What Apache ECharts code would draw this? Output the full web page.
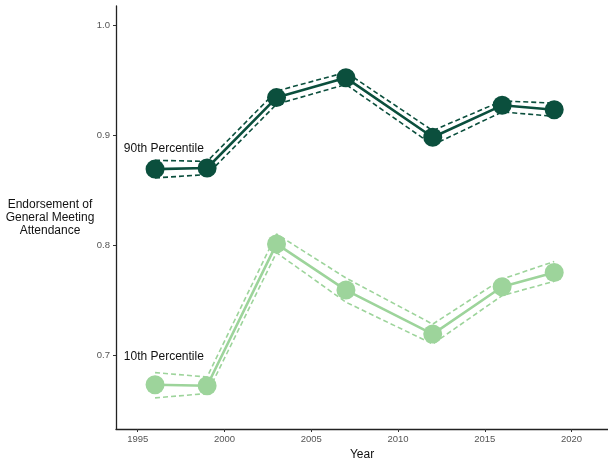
<!DOCTYPE html>
<html>
<head>
<meta charset="utf-8">
<script src="https://cdn.jsdelivr.net/npm/echarts@6/dist/echarts.min.js"></script>
<style>
html,body{margin:0;padding:0;background:#fff;}
#chart{width:608px;height:458px;}
</style>
</head>
<body>
<div id="chart"></div>
<script>
const years = [1996, 1999, 2003, 2007, 2012, 2016, 2019];
const p90 = [0.869, 0.870, 0.934, 0.952, 0.898, 0.927, 0.923];
const p90Upper = [0.877, 0.876, 0.940, 0.957, 0.904, 0.931, 0.929];
const p90Lower = [0.861, 0.864, 0.928, 0.946, 0.891, 0.921, 0.917];
const p10 = [0.673, 0.672, 0.801, 0.759, 0.719, 0.762, 0.775];
const p10Upper = [0.684, 0.680, 0.810, 0.770, 0.728, 0.769, 0.785];
const p10Lower = [0.661, 0.665, 0.793, 0.748, 0.710, 0.754, 0.767];
const xTicks = [1995, 2000, 2005, 2010, 2015, 2020];
const yTicks = [0.7, 0.8, 0.9, 1.0];
const seriesLabels = ['90th Percentile', '10th Percentile'];
const labelAnchors = [[1994.2, 0.888], [1994.2, 0.698]];
const yTitle = 'Endorsement of\nGeneral Meeting\nAttendance';
const xTitle = 'Year';

const DARK = '#0b4f3d';
const LIGHT = '#9dd49b';
const FONT = 'Liberation Sans, Arial, sans-serif';

const pairs = arr => years.map((y, i) => [y, arr[i]]);

const chart = echarts.init(document.getElementById('chart'), null, {renderer: 'canvas'});

function dashed(arr, color) {
  return {
    type: 'line', data: pairs(arr), showSymbol: false, symbol: 'none', silent: true, z: 2,
    lineStyle: {color: color, width: 1.6, type: [5, 3]}, animation: false
  };
}
function main(arr, color) {
  return {
    type: 'line', data: pairs(arr), symbol: 'circle', symbolSize: 19, z: 3,
    itemStyle: {color: color}, lineStyle: {color: color, width: 2.6}, animation: false
  };
}

chart.setOption({
  animation: false,
  backgroundColor: '#fff',
  grid: {left: 116, right: 0, top: 6, bottom: 29, containLabel: false, outerBoundsMode: 'none'},
  xAxis: {
    type: 'value', min: 1993.75, max: 2022.1,
    name: xTitle, nameLocation: 'middle', nameGap: 14,
    nameTextStyle: {fontFamily: FONT, fontSize: 12, color: '#111'},
    axisLine: {show: true, lineStyle: {color: '#222', width: 1.3}},
    axisTick: {show: true, customValues: xTicks, length: 3, lineStyle: {color: '#333'}},
    axisLabel: {customValues: xTicks, fontFamily: FONT, fontSize: 9.5, color: '#555', margin: 5,
      formatter: v => String(Math.round(v))},
    splitLine: {show: false}
  },
  yAxis: {
    type: 'value', min: 0.6327, max: 1.0173,
    axisLine: {show: true, lineStyle: {color: '#222', width: 1.3}},
    axisTick: {show: true, customValues: yTicks, length: 3, lineStyle: {color: '#333'}},
    axisLabel: {customValues: yTicks, fontFamily: FONT, fontSize: 9.5, color: '#555', margin: 6,
      formatter: v => v.toFixed(1)},
    splitLine: {show: false}
  },
  series: [
    dashed(p90Upper, DARK), dashed(p90Lower, DARK),
    dashed(p10Upper, LIGHT), dashed(p10Lower, LIGHT),
    main(p90, DARK), main(p10, LIGHT)
  ]
});

const graphics = [{
  type: 'text', x: 50, y: 218,
  style: {text: yTitle, fontFamily: FONT, fontSize: 12, fill: '#111', align: 'center', verticalAlign: 'middle', lineHeight: 13}
}];
labelAnchors.forEach((a, i) => {
  const p = chart.convertToPixel({gridIndex: 0}, a);
  graphics.push({
    type: 'text', x: p[0], y: p[1],
    style: {text: seriesLabels[i], fontFamily: FONT, fontSize: 12, fill: '#111', align: 'left', verticalAlign: 'middle'}
  });
});
chart.setOption({graphic: graphics});
</script>
</body>
</html>
